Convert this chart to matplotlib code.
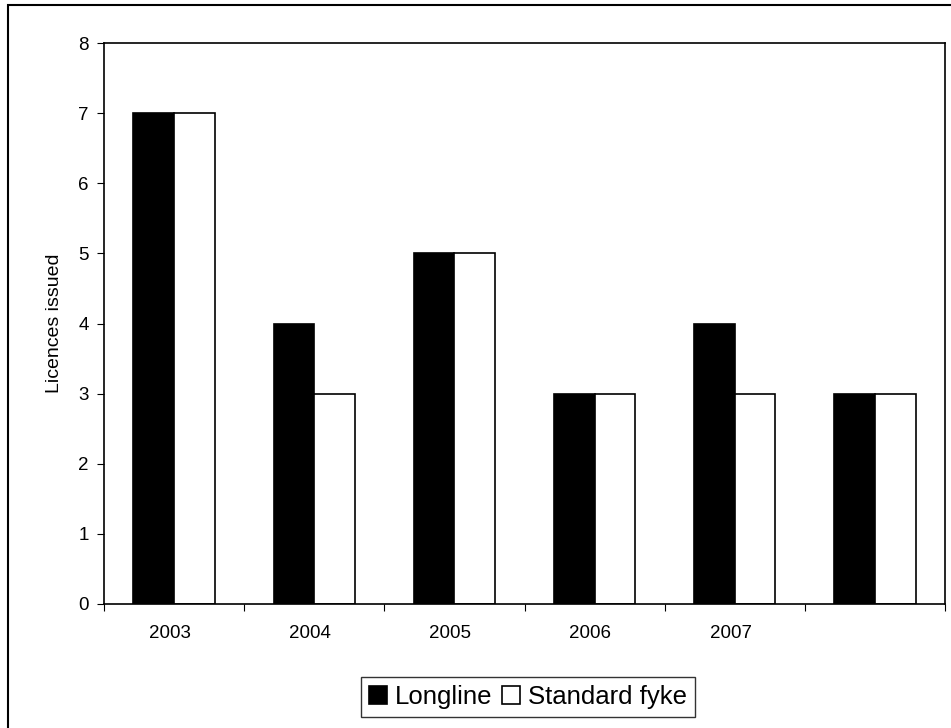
import numpy as np
import matplotlib.pyplot as plt
from matplotlib.patches import Rectangle

plt.rcParams['font.family'] = ['Liberation Sans', 'DejaVu Sans']

# Licences issued per year
anios = ['2003', '2004', '2005', '2006', '2007', '']
longline = [7, 4, 5, 3, 4, 3]
standard_fyke = [7, 3, 5, 3, 3, 3]

fig = plt.figure(figsize=(9.51, 7.28), dpi=100)
ax = fig.add_axes([104 / 951, 1 - 604 / 728, 841 / 951, 561 / 728])

# marco exterior de la figura (los bordes derecho e inferior quedan fuera)
fig.patches.append(Rectangle((8 / 951, -0.01), 1.0, 1 - 5 / 728 + 0.01,
                             transform=fig.transFigure, fill=False,
                             edgecolor='black', linewidth=1.5))

x = np.arange(len(anios))
ancho = 0.29
ax.bar(x - ancho / 2, longline, ancho, color='black', edgecolor='black',
       linewidth=1.2, label='Longline')
ax.bar(x + ancho / 2, standard_fyke, ancho, color='white', edgecolor='black',
       linewidth=1.2, label='Standard fyke')

ax.set_xlim(-0.5, len(anios) - 0.5)
ax.set_ylim(0, 8)
ax.set_yticks(range(0, 9))
ax.set_xticks(np.arange(len(anios) + 1) - 0.5)
ax.set_xticklabels([])
ax.set_xticks(x - 0.03, minor=True)
ax.set_xticklabels(anios, minor=True)
ax.tick_params(axis='x', which='minor', length=0, pad=15, labelsize=13.5)
ax.tick_params(axis='x', which='major', length=5, direction='out')
ax.tick_params(axis='y', length=5, direction='out', labelsize=13.5, pad=6)
for s in ax.spines.values():
    s.set_linewidth(1.2)

ax.set_ylabel('Licences issued', fontsize=14, labelpad=11)

leg = fig.legend(loc='center', bbox_to_anchor=(528 / 951, 1 - 697 / 728),
                 ncol=2, fontsize=18.5, frameon=True, fancybox=False,
                 handlelength=0.7, handleheight=0.7, handletextpad=0.3,
                 columnspacing=0.4, borderpad=0.3, borderaxespad=0)
leg.get_frame().set_edgecolor('black')
leg.get_frame().set_linewidth(1.0)

fig.savefig('out.png', dpi=100)
